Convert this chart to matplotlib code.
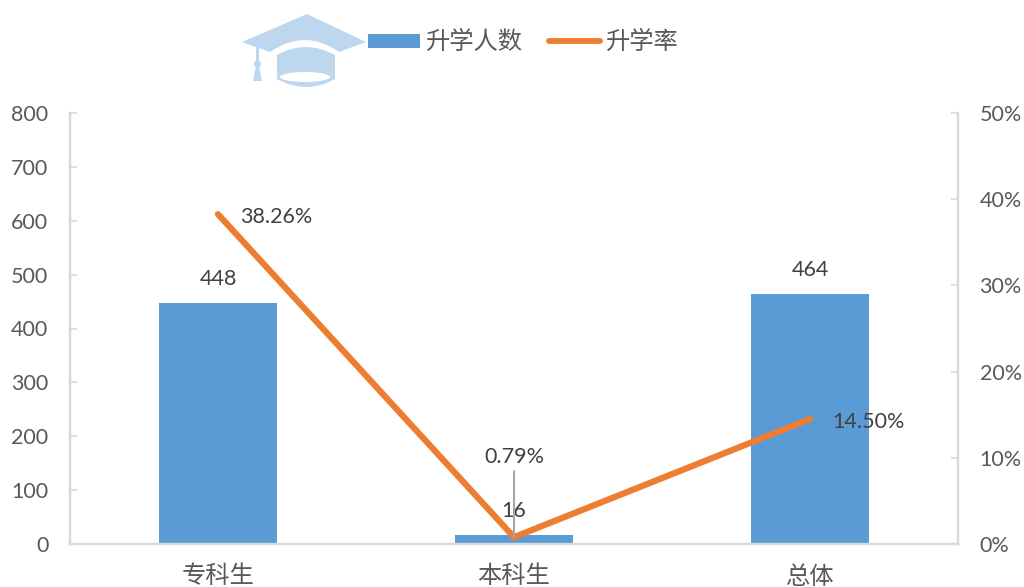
import matplotlib
matplotlib.use("Agg")
import matplotlib.pyplot as plt
from matplotlib.patches import Polygon, Ellipse, PathPatch
from matplotlib.path import Path
from matplotlib.lines import Line2D

plt.rcParams['font.family'] = ['Lato', 'Noto Sans CJK SC', 'DejaVu Sans']

categories = ['专科生', '本科生', '总体']
counts = [448, 16, 464]
rates = [38.26, 0.79, 14.50]
rate_labels = ['38.26%', '0.79%', '14.50%']
left_ticks = [0, 100, 200, 300, 400, 500, 600, 700, 800]
right_ticks = [0, 10, 20, 30, 40, 50]

W, H = 1024, 587
BLUE = '#5B9BD5'
ORANGE = '#ED7D31'
HAT = '#BDD7EE'
GRAY = '#595959'
LINE = '#D9D9D9'

fig = plt.figure(figsize=(W / 100, H / 100), dpi=100)

# axes box in pixels: x 70-958, y 113-544
ax = fig.add_axes([70 / W, 1 - 544 / H, 888 / W, 431 / H])
ax2 = ax.twinx()
ax.set_zorder(1)
ax2.set_zorder(2)

x = range(len(categories))
ax.bar(x, counts, width=0.4, color=BLUE, zorder=2)
ax.set_xlim(-0.5, 2.5)
ax.set_ylim(0, 800)
ax.set_yticks(left_ticks)
ax.set_xticks(list(x))
ax.set_xticklabels(categories, fontsize=17.5, color=GRAY)

ax2.plot(x, rates, color=ORANGE, lw=4.5, solid_capstyle='round', solid_joinstyle='miter', zorder=3)
ax2.set_ylim(0, 50)
ax2.set_yticks(right_ticks)
ax2.set_yticklabels([f'{t}%' for t in right_ticks])

for a in (ax, ax2):
    a.patch.set_alpha(0)
    a.spines['top'].set_visible(False)
    for s in a.spines.values():
        s.set_color(LINE)
        s.set_linewidth(1.6)
    a.tick_params(axis='y', labelsize=15.5, labelcolor=GRAY, color=LINE, length=5, width=1.2,
                  direction='in', pad=15.5)
    a.tick_params(axis='x', length=0, pad=15)

# bar values
for i, v in enumerate(counts):
    ax.annotate(str(v), (i, v), xytext=(0, 14), textcoords='offset pixels', ha='center',
                va='bottom', fontsize=15.5, color='#404040', zorder=5)

# rate labels, placed as in the source
ax2.annotate(rate_labels[0], (0, rates[0]), xytext=(22, -3), textcoords='offset pixels', ha='left',
             va='center', fontsize=15.5, color='#404040')
ax2.annotate(rate_labels[1], (1, rates[1]), xytext=(0, 80), textcoords='offset pixels', ha='center',
             va='center', fontsize=15.5, color='#404040')
ax2.annotate(rate_labels[2], (2, rates[2]), xytext=(22, -3), textcoords='offset pixels', ha='left',
             va='center', fontsize=15.5, color='#404040')
# leader line of the 0.79% label
ax2.annotate('', (1, rates[1]), xytext=(0, 66), textcoords='offset pixels',
             arrowprops=dict(arrowstyle='-', color='#A6A6A6', lw=1.5, shrinkA=0, shrinkB=0))


def px(pts):
    return [(a / W, 1 - b / H) for a, b in pts]


# graduation cap icon
tf = fig.transFigure
brim = px([(242, 42), (307, 14), (366, 42), (339, 52), (305, 28), (270, 52), (242, 42)])
fig.add_artist(PathPatch(Path(brim, [Path.MOVETO, Path.LINETO, Path.LINETO, Path.LINETO,
                                     Path.CURVE3, Path.CURVE3, Path.LINETO]),
                         fc=HAT, ec='none', transform=tf))
crown = px([(277, 55), (306, 39), (335, 55), (335, 79), (306, 95), (277, 79), (277, 55)])
fig.add_artist(PathPatch(Path(crown, [Path.MOVETO, Path.CURVE3, Path.CURVE3, Path.LINETO,
                                      Path.CURVE3, Path.CURVE3, Path.LINETO]),
                         fc=HAT, ec='none', transform=tf))
fig.add_artist(Ellipse((305 / W, 1 - 77 / H), 50 / W, 10 / H, fc='white', ec='none', transform=tf))
fig.add_artist(Polygon(px([(256, 47), (259, 47), (259, 64), (256, 64)]), closed=True,
                       fc=HAT, ec='none', transform=tf))
fig.add_artist(Ellipse((257.5 / W, 1 - 64 / H), 7 / W, 7 / H, fc=HAT, ec='none', transform=tf))
fig.add_artist(Polygon(px([(256, 66), (259, 66), (262, 81), (253, 81)]), closed=True,
                       fc=HAT, ec='none', transform=tf))

# legend drawn by hand to hold its exact place beside the icon
fig.add_artist(Polygon(px([(368, 34), (420, 34), (420, 48), (368, 48)]), closed=True,
                       fc=BLUE, ec='none', transform=tf))
fig.text(425 / W, 1 - 41 / H, '升学人数', fontsize=17.5, color=GRAY, va='center', ha='left')
fig.add_artist(Line2D([549 / W, 600 / W], [1 - 40.5 / H] * 2, color=ORANGE, lw=4.2,
                      solid_capstyle='round', transform=tf))
fig.text(605 / W, 1 - 41 / H, '升学率', fontsize=17.5, color=GRAY, va='center', ha='left')

fig.savefig('out.png', dpi=100)
